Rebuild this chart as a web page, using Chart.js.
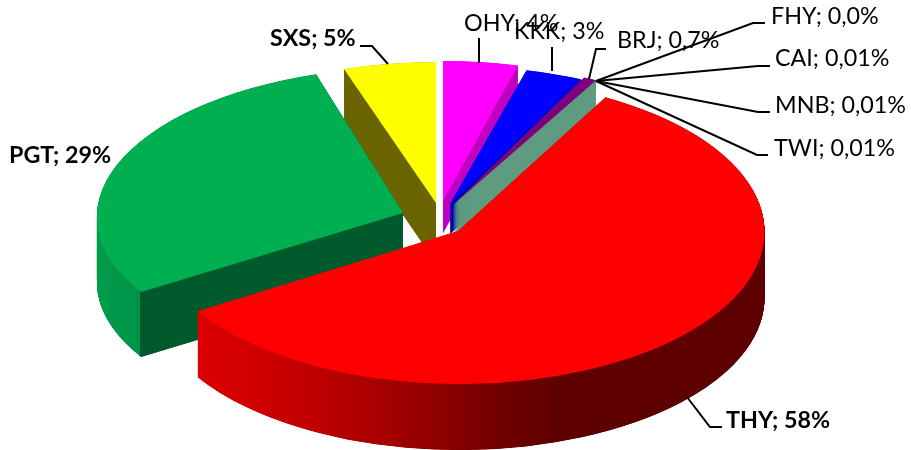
<!DOCTYPE html>
<html><head><meta charset="utf-8">
<style>html,body{margin:0;padding:0;background:#fff}#w{width:911px;height:450px;position:relative}</style>
<script src="https://cdn.jsdelivr.net/npm/chart.js@4"></script>
</head><body><div id="w"><canvas id="c" width="911" height="450"></canvas></div>
<script>
const categories=['OHY','KKK','BRJ','FHY','CAI','MNB','TWI','THY','PGT','SXS'];
const shares=[4,3,0.7,0,0.01,0.01,0.01,58,29,5];
const shareText=['4%','3%','0,7%','0,0%','0,01%','0,01%','0,01%','58%','29%','5%'];
const topColors=['#FF00FF','#0000FF','#7F007F','#5F9B80','#5F9B80','#5F9B80','#5F9B80','#FF0000','#00B050','#FFFF00'];
// placement of each exploded slice on the tilted plane: apex x,y, radii x,y, wall depth, x-shear, y-shear
const place={
 OHY:[443,201,300,140,32,0,0],KKK:[450,204,307,138,30,0,0],BRJ:[453,205,307,141,34,0,0],
 FHY:[453,205,307,141,0,0,0],CAI:[453,205,307,141,0,0,0],MNB:[453,205,307,141,0,0,0],TWI:[453,205,307,141,0,0,0],
 THY:[458,231,306.5,153,66,-0.03,0.01],PGT:[403,213,306,146,65,-0.057,0],SXS:[436,203,297,141,60,0,0]};
// wall colours as [x, colour] stops
const walls={
 OHY:[[0,'#C000C0'],[1,'#C000C0']],KKK:[[0,'#0000B0'],[1,'#0000B0']],BRJ:[[0,'#5F9B80'],[1,'#5F9B80']],
 SXS:[[0,'#6B6500'],[1,'#6B6500']],
 PGT:[[98,'#009C4A'],[140,'#00934A'],[140.5,'#005A2C'],[403,'#005A2C']],
 THY:[[197,'#DD0000'],[300,'#C40000'],[400,'#A00000'],[490,'#750000'],[560,'#5E0000'],[765,'#5E0000']]};
const drawOrder=['SXS','OHY','KKK','FHY','CAI','MNB','TWI','BRJ','PGT','THY'];
const labelSpots={
 OHY:[464,23,false,[[479,38],[479,63]]],
 KKK:[514,31,false,[[552,47],[552,71]]],
 BRJ:[617,40,false,[[606,49],[596,49],[589,79]]],
 FHY:[771,16,false,[[765,23],[753,23],[596,81]]],
 CAI:[775,58,false,[[770,66],[758,66],[596,81]]],
 MNB:[775,105,false,[[770,112],[758,112],[596,81]]],
 TWI:[774,148,false,[[768,155],[757,155],[596,81]]],
 THY:[726,420,true,[[722,427],[710,427],[687,397]]],
 PGT:[9,155,true,[]],
 SXS:[270,38,true,[[360,46],[372,46],[388,64]]]};

const pie3d={id:'pie3d',
 beforeDatasetsDraw(chart){
  const ctx=chart.ctx,arcs=chart.getDatasetMeta(0).data;
  drawOrder.forEach(name=>{
   const i=categories.indexOf(name),arc=arcs[i];
   if(!arc.circumference&&!shares[i])return;
   const [cx,cy,rx,ry,depth,shear,yshear]=place[name],R=arc.outerRadius,sx=rx/R,sy=ry/R;
   const paint=(dy,fill)=>{
    ctx.save();
    ctx.translate(cx,cy+dy);
    ctx.transform(1,yshear,shear,1,0,0);
    ctx.scale(sx,sy);
    ctx.translate(-arc.x,-arc.y);
    arc.options.backgroundColor=fill;
    arc.draw(ctx);
    ctx.restore();
   };
   if(walls[name]&&depth){
    const st=walls[name];let grad;
    if(st[st.length-1][0]>1){
     // gradient vector chosen so that, after the slice transform, colour varies with canvas x only
     const n=sx*sx+shear*shear*sy*sy;
     const pt=X=>{const t=(X-cx)/n;return [arc.x+t*sx,arc.y+t*shear*sy];};
     const a=st[0][0],b=st[st.length-1][0],p0=pt(a),p1=pt(b);
     grad=ctx.createLinearGradient(p0[0],p0[1],p1[0],p1[1]);
     st.forEach(s=>grad.addColorStop((s[0]-a)/(b-a),s[1]));
    }else grad=st[0][1];
    for(let d=depth;d>0;d-=0.25)paint(d,grad);
   }
   paint(0,topColors[i]);
  });
  return false;
 },
 afterDraw(chart){
  const ctx=chart.ctx;
  ctx.save();
  ctx.strokeStyle='#000';ctx.lineWidth=2;ctx.fillStyle='#000';ctx.textBaseline='middle';ctx.textAlign='left';
  categories.forEach((name,i)=>{
   const [x,y,bold,path]=labelSpots[name];
   if(path.length){ctx.beginPath();path.forEach((p,k)=>k?ctx.lineTo(p[0],p[1]):ctx.moveTo(p[0],p[1]));ctx.stroke();}
   ctx.font=(bold?'700 ':'400 ')+'23.3px Lato, sans-serif';
   ctx.fillText(name+'; '+shareText[i],x,y);
  });
  ctx.restore();
 }};

new Chart(document.getElementById('c'),{
 type:'pie',
 data:{labels:categories,datasets:[{data:shares,backgroundColor:topColors,borderWidth:0,radius:300}]},
 options:{responsive:false,animation:false,rotation:0,layout:{padding:0},
  plugins:{legend:{display:false},tooltip:{enabled:false},title:{display:false}}},
 plugins:[pie3d]});
</script></body></html>
